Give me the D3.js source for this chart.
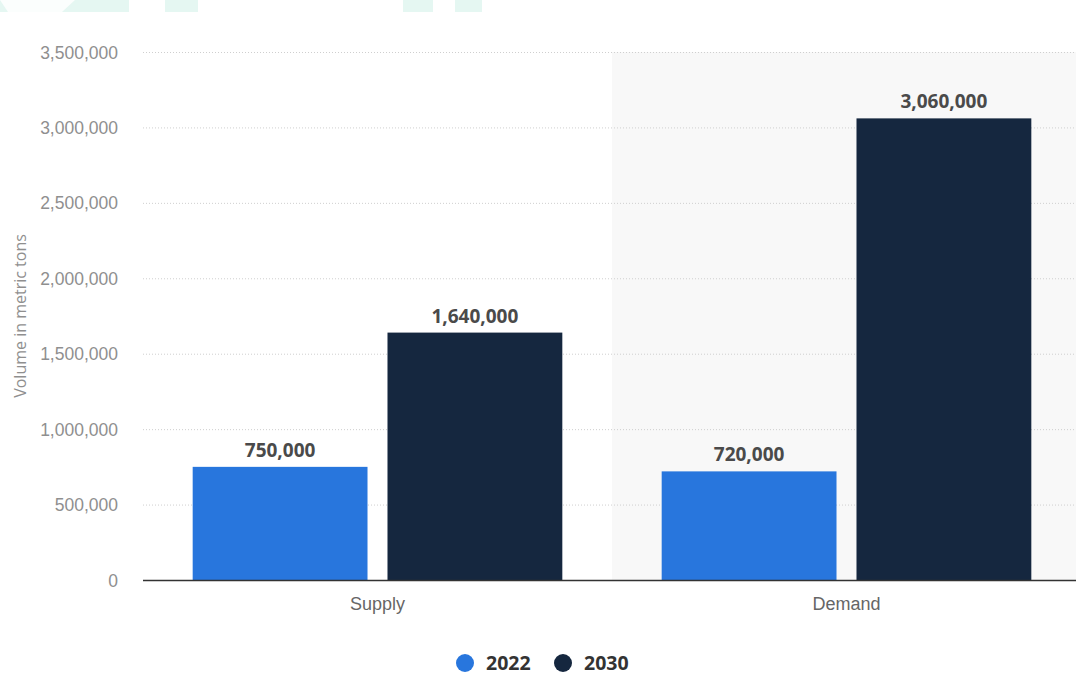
<!DOCTYPE html>
<html>
<head>
<meta charset="utf-8">
<script src="https://cdn.jsdelivr.net/npm/d3@7"></script>
<style>
  body { margin: 0; background: #fff; }
  svg { display: block; font-family: "Open Sans", sans-serif; }
</style>
</head>
<body>
<svg id="chart" width="1076" height="675"></svg>
<script>
// data
const categories = ["Supply", "Demand"];
const years = ["2022", "2030"];
const values2022 = [750000, 720000];
const values2030 = [1640000, 3060000];
const yTicks = [0, 500000, 1000000, 1500000, 2000000, 2500000, 3000000, 3500000];
const colors = ["#2876dd", "#15273f"];

const svg = d3.select("#chart");
const margin = {top: 52, right: -5, bottom: 95, left: 143};
const width = 1076 - margin.left - margin.right,
  height = 675 - margin.top - margin.bottom;

// faint watermark strip at the very top
const strips = [[0, 129], [165, 33], [403, 30], [455, 27]];
svg.selectAll("rect.wm").data(strips).enter().append("rect")
  .attr("class", "wm")
  .attr("x", d => d[0]).attr("y", 0)
  .attr("width", d => d[1]).attr("height", 12)
  .attr("fill", "#e5f7f2");
svg.append("path")
  .attr("d", "M0,0 L75,0 L62,12 L8,12 Z")
  .attr("fill", "#fbfefd");

const g = svg.append("g").attr("transform", `translate(${margin.left},${margin.top})`);

const x = d3.scaleBand().domain(categories).range([0, width]);
const x1 = d3.scaleBand().domain(years).range([0, x.bandwidth()]).paddingInner(0.1026).paddingOuter(0.255);
const y = d3.scaleLinear().domain([0, 3500000]).range([height, 0]);

// shaded second band
g.append("rect")
  .attr("x", x("Demand")).attr("y", 0)
  .attr("width", 1076 - margin.left - x("Demand")).attr("height", height)
  .attr("fill", "#f8f8f8");

// grid lines
g.selectAll("line.grid").data(yTicks.slice(1)).enter().append("line")
  .attr("class", "grid")
  .attr("x1", 0).attr("x2", 1076 - margin.left)
  .attr("y1", d => y(d) + 0.5).attr("y2", d => y(d) + 0.5)
  .attr("stroke", "#cfcfcf").attr("stroke-dasharray", "1,2");

// y axis labels
const yAxis = d3.axisLeft(y).tickValues(yTicks).tickSize(0).tickPadding(25)
  .tickFormat(d3.format(","));
g.append("g").call(yAxis)
  .call(s => s.select(".domain").remove())
  .selectAll("text")
  .attr("fill", "#8f8f8f").style("font-size", "17.5px").attr("dy", "0.35em");

g.append("text")
  .attr("transform", `translate(${26 - margin.left},${y(1750000)}) rotate(-90)`)
  .attr("text-anchor", "middle")
  .attr("fill", "#8f8f8f").style("font-size", "16px")
  .text("Volume in metric tons");

// bars
const rows = categories.map((c, i) => ({cat: c, vals: [values2022[i], values2030[i]]}));
const grp = g.selectAll("g.cat").data(rows).enter().append("g")
  .attr("class", "cat")
  .attr("transform", d => `translate(${x(d.cat)},0)`);

grp.selectAll("rect").data(d => d.vals.map((v, j) => ({year: years[j], v: v, j: j})))
  .enter().append("rect")
  .attr("x", d => x1(d.year))
  .attr("y", d => y(d.v))
  .attr("width", x1.bandwidth())
  .attr("height", d => height - y(d.v))
  .attr("fill", d => colors[d.j]);

grp.selectAll("text.val").data(d => d.vals.map((v, j) => ({year: years[j], v: v})))
  .enter().append("text")
  .attr("class", "val")
  .attr("x", d => x1(d.year) + x1.bandwidth() / 2)
  .attr("y", d => y(d.v) - 10)
  .attr("text-anchor", "middle")
  .attr("fill", "#4a4a4a").style("font-size", "19px").style("font-weight", "bold")
  .text(d => d3.format(",")(d.v));

// baseline
g.append("line")
  .attr("x1", 0).attr("x2", 1076 - margin.left)
  .attr("y1", height + 0.5).attr("y2", height + 0.5)
  .attr("stroke", "#333").attr("stroke-width", 1.4);

// category labels
const xAxis = d3.axisBottom(x).tickSize(0).tickPadding(17);
g.append("g").attr("transform", `translate(0,${height})`).call(xAxis)
  .call(s => s.select(".domain").remove())
  .selectAll("text")
  .attr("fill", "#666").style("font-size", "18px");

// legend
const legend = svg.append("g").attr("transform", "translate(465,663)");
const items = legend.selectAll("g").data(years).enter().append("g")
  .attr("transform", (d, i) => `translate(${i * 98},0)`);
items.append("circle").attr("r", 9).attr("fill", (d, i) => colors[i]);
items.append("text").attr("x", 21).attr("dy", "0.35em")
  .attr("fill", "#333").style("font-size", "19.5px").style("font-weight", "bold")
  .text(d => d);
</script>
</body>
</html>
